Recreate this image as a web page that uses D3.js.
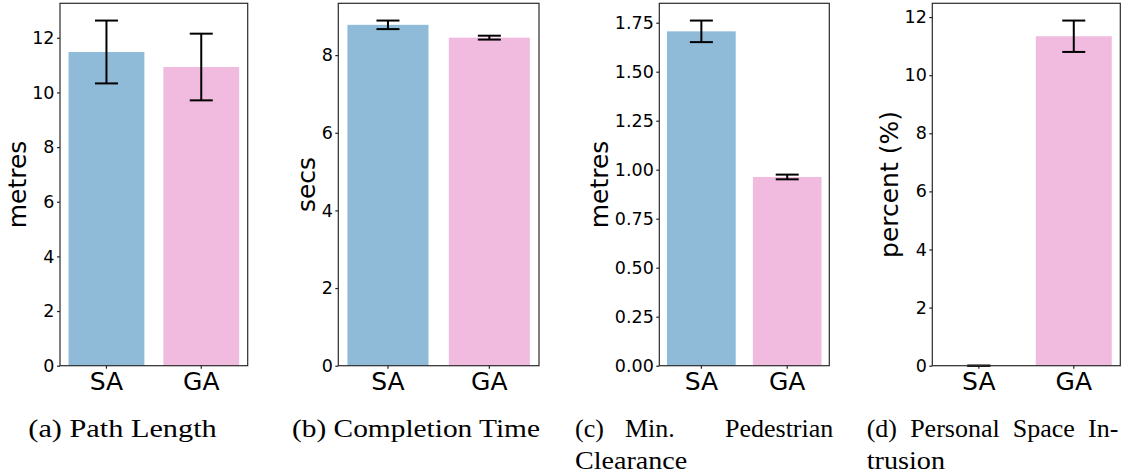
<!DOCTYPE html>
<html>
<head>
<meta charset="utf-8">
<script src="https://cdn.jsdelivr.net/npm/d3@7"></script>
<style>
  body { margin: 0; background: #fff; }
  svg { display: block; }
  .sans { font-family: 'DejaVu Sans', sans-serif; }
  .serif { font-family: 'Liberation Serif', 'DejaVu Serif', serif; }
</style>
</head>
<body>
<div id="chart"></div>
<script>
// categories and values
const categories = ['SA', 'GA']

const pathLength = [11.48, 10.93]
const pathLengthErr = [1.15, 1.22]

const completionTime = [8.78, 8.45]
const completionTimeErr = [0.11, 0.05]

const clearance = [1.706, 0.963]
const clearanceErr = [0.055, 0.012]

const intrusion = [0, 11.34]
const intrusionErr = [0, 0.54]

const yLabels = ['metres', 'secs', 'metres', 'percent (%)']
const yTicks = [
  [0, 2, 4, 6, 8, 10, 12],
  [0, 2, 4, 6, 8],
  [0, 0.25, 0.5, 0.75, 1.0, 1.25, 1.5, 1.75],
  [0, 2, 4, 6, 8, 10, 12]
]
const captions = [
  ['(a) Path Length'],
  ['(b) Completion Time'],
  ['(c) Min. Pedestrian', 'Clearance'],
  ['(d) Personal Space In-', 'trusion']
]

let colors = ['#8fbbd9', '#f1bbe0']

let width = 1130
let height = 476

let svg = d3
  .select('#chart')
  .append('svg')
  .attr('width', width)
  .attr('height', height)

// axes boxes, left/right edges of each panel
let panels = [
  { left: 60, right: 247.7, values: pathLength, errs: pathLengthErr, fmt: d3.format('d') },
  { left: 338.3, right: 539, values: completionTime, errs: completionTimeErr, fmt: d3.format('d') },
  { left: 659.3, right: 829.3, values: clearance, errs: clearanceErr, fmt: d3.format('.2f') },
  { left: 932.3, right: 1120.3, values: intrusion, errs: intrusionErr, fmt: d3.format('d') }
]
let axTop = 3.3
let axBottom = 365.7

panels.forEach((p, i) => {
  let x = d3
    .scaleBand()
    .domain(categories)
    .range([p.left, p.right])
    .paddingInner(0.2)
    .paddingOuter(0.09)

  let ymax = d3.max(p.values.map((v, j) => v + p.errs[j])) * 1.05
  let y = d3.scaleLinear().domain([0, ymax]).range([axBottom, axTop])

  let g = svg.append('g')

  // bars
  g.selectAll('.bar')
    .data(categories)
    .enter()
    .append('rect')
    .attr('class', 'bar')
    .attr('x', d => x(d))
    .attr('width', x.bandwidth())
    .attr('y', (d, j) => y(p.values[j]))
    .attr('height', (d, j) => axBottom - y(p.values[j]))
    .attr('fill', (d, j) => colors[j])

  // error bars
  let cap = 11.5
  categories.forEach((c, j) => {
    let cx = x(c) + x.bandwidth() / 2
    let hi = y(p.values[j] + p.errs[j])
    let lo = y(p.values[j] - p.errs[j])
    let eg = g.append('g').attr('stroke', '#000').attr('stroke-width', 2)
    eg.append('line').attr('x1', cx).attr('x2', cx).attr('y1', hi).attr('y2', lo)
    eg.append('line').attr('x1', cx - cap).attr('x2', cx + cap).attr('y1', hi).attr('y2', hi)
    eg.append('line').attr('x1', cx - cap).attr('x2', cx + cap).attr('y1', lo).attr('y2', lo)
  })

  // y axis
  let yAxis = g.append('g')
    .attr('transform', `translate(${p.left},0)`)
    .call(d3.axisLeft(y).tickValues(yTicks[i]).tickFormat(p.fmt).tickSize(3).tickPadding(2.5))
  yAxis.select('.domain').remove()
  yAxis.attr('font-family', null).attr('font-size', null)
  yAxis.selectAll('line').attr('stroke', '#222').attr('stroke-width', 1.2)
  yAxis.selectAll('text')
    .attr('class', 'sans')
    .attr('font-size', 17.5)
    .attr('fill', '#000')

  // x axis
  let xAxis = g.append('g')
    .attr('transform', `translate(0,${axBottom})`)
    .call(d3.axisBottom(x).tickSize(3).tickPadding(4))
  xAxis.select('.domain').remove()
  xAxis.attr('font-family', null).attr('font-size', null)
  xAxis.selectAll('line').attr('stroke', '#222').attr('stroke-width', 1.2)
  xAxis.selectAll('text')
    .attr('class', 'sans')
    .attr('font-size', 25)
    .attr('fill', '#000')

  // frame
  g.append('rect')
    .attr('x', p.left)
    .attr('y', axTop)
    .attr('width', p.right - p.left)
    .attr('height', axBottom - axTop)
    .attr('fill', 'none')
    .attr('stroke', '#2a2a2a')
    .attr('stroke-width', 1.2)

  // y label, placed just left of the tick labels
  let bb = yAxis.node().getBBox()
  let lx = p.left + bb.x - 6.5
  g.append('text')
    .attr('class', 'sans')
    .attr('transform', `translate(${lx},${(axTop + axBottom) / 2}) rotate(-90)`)
    .attr('text-anchor', 'middle')
    .attr('font-size', 25)
    .attr('fill', '#000')
    .text(yLabels[i])
})

// captions under each panel: start x and where each line ends
let capLayout = [
  { x: 28.3, ends: [216.7], justify: false },
  { x: 292, ends: [540], justify: false },
  { x: 575, ends: [833.3, 687.3], justify: true },
  { x: 866.7, ends: [1118.3, 945], justify: true }
]
let baseY = 437
let lineH = 31.5

captions.forEach((lines, i) => {
  let c = capLayout[i]
  let cg = svg.append('g')
    .attr('class', 'serif')
    .attr('font-size', 26)
    .attr('fill', '#000')
  lines.forEach((line, k) => {
    let t = cg.append('text')
      .attr('x', c.x)
      .attr('y', baseY + k * lineH)
    let words = line.split(' ')
    let target = c.ends[k] - c.x
    if (c.justify && k < lines.length - 1) {
      // tex-like glue: a space after a full stop stretches three times as much
      let spans = words.map((w, n) => t.append('tspan').text(n < words.length - 1 ? w + ' ' : w))
      let nat = t.node().getComputedTextLength()
      let weights = words.slice(0, -1).map(w => (w.endsWith('.') ? 3 : 1))
      let s = (target - nat) / d3.sum(weights)
      spans.forEach((sp, n) => {
        if (n > 0) sp.attr('dx', weights[n - 1] * s)
      })
    } else {
      t.text(line)
      t.attr('textLength', target).attr('lengthAdjust', 'spacingAndGlyphs')
    }
  })
})
</script>
</body>
</html>
